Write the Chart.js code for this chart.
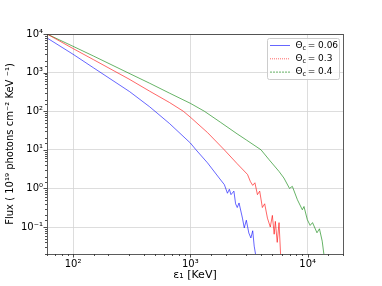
<!DOCTYPE html>
<html>
    <head>
        <title>Flux spectrum</title>
        <meta charset="UTF-8">
        <style>
            body {
                margin: 0;
                background: #fff;
            }
        </style>
    </head>
    <body>
        <canvas id="myChart" width="382" height="286"></canvas>

        <script src="https://cdn.jsdelivr.net/npm/chart.js@4.4.0/dist/chart.umd.min.js"></script>
        <script>
            // values (energy in KeV, flux in 1e19 photons cm^-2 KeV^-1)
            var seriesLabels = ['Θc = 0.06', 'Θc = 0.3', 'Θc = 0.4'];

            var blueEnergy = [60, 100, 150, 303, 450, 664, 1000, 1117, 1400, 1760, 1950, 2070, 2150, 2220, 2350, 2430, 2510, 2600, 2780, 2880, 3000, 3150, 3280, 3400, 3500, 3650];
            var blueFlux = [7900, 2990, 1320, 323, 130, 48, 15, 10, 4.6, 1.86, 1.25, 0.75, 0.95, 0.69, 0.85, 0.4, 0.32, 0.42, 0.17, 0.095, 0.15, 0.07, 0.052, 0.08, 0.032, 0.015];

            var redEnergy = [60, 100, 150, 300, 450, 664, 870, 1000, 1400, 1945, 2500, 3070, 3250, 3400, 3550, 3730, 3900, 4110, 4300, 4540, 4800, 5000, 5180, 5300, 5500, 5700, 5900];
            var redFlux = [10000, 4200, 2150, 680, 330, 168, 100, 70, 28, 10, 4.4, 2.3, 1.5, 1.2, 1.4, 0.69, 0.85, 0.32, 0.4, 0.17, 0.1, 0.2, 0.065, 0.14, 0.04, 0.13, 0.015];

            var greenEnergy = [60, 100, 150, 300, 450, 664, 1000, 1315, 1800, 2500, 3000, 4000, 4700, 5700, 6270, 7000, 7400, 8170, 9000, 9300, 9930, 10500, 11000, 12000, 12600, 13300, 13900];
            var greenFlux = [10000, 4800, 2670, 960, 530, 294, 160, 100, 52, 26, 18, 10, 5.5, 2.75, 1.86, 1.0, 1.13, 0.51, 0.28, 0.34, 0.155, 0.11, 0.13, 0.071, 0.09, 0.043, 0.015];

            var xMin = 60, xMax = 20000;
            var yMin = 0.02, yMax = 10000;

            var sup = {'0': '⁰', '1': '¹', '2': '²', '3': '³', '4': '⁴', '5': '⁵', '-': '⁻'};

            function isDecade(v) {
                var l = Math.log10(v);
                return Math.abs(l - Math.round(l)) < 1e-6;
            }

            function decadeLabel(v) {
                if (!isDecade(v)) {
                    return '';
                }
                var e = String(Math.round(Math.log10(v)));
                var s = '10';
                for (var i = 0; i < e.length; i++) {
                    s += sup[e[i]];
                }
                return s;
            }

            function toPoints(xs, ys) {
                var pts = [];
                for (var i = 0; i < xs.length; i++) {
                    pts.push({x: xs[i], y: ys[i]});
                }
                return pts;
            }

            function gridColor(ctx) {
                if (ctx.tick && isDecade(ctx.tick.value)) {
                    return '#d4d4d4';
                }
                return 'rgba(0,0,0,0)';
            }

            var framePlugin = {
                id: 'frame',
                afterDraw: function (chart) {
                    var ctx = chart.ctx;
                    var a = chart.chartArea;
                    ctx.save();
                    // ticks, long on decades, short otherwise
                    ctx.strokeStyle = '#222';
                    ctx.lineWidth = 0.8;
                    chart.scales.y.ticks.forEach(function (t) {
                        var py = Math.round(chart.scales.y.getPixelForValue(t.value)) + 0.5;
                        var len = isDecade(t.value) ? 3.5 : 2;
                        ctx.beginPath();
                        ctx.moveTo(a.left - len, py);
                        ctx.lineTo(a.left, py);
                        ctx.stroke();
                    });
                    chart.scales.x.ticks.forEach(function (t) {
                        var px = Math.round(chart.scales.x.getPixelForValue(t.value)) + 0.5;
                        var len = isDecade(t.value) ? 3.5 : 2;
                        ctx.beginPath();
                        ctx.moveTo(px, a.bottom);
                        ctx.lineTo(px, a.bottom + len);
                        ctx.stroke();
                    });
                    ctx.strokeStyle = '#333';
                    ctx.strokeRect(Math.round(a.left) + 0.5, Math.round(a.top) + 0.5, Math.round(a.right - a.left), Math.round(a.bottom - a.top));

                    // legend box in the upper right corner
                    var bx = 267.5, by = 38.5, bw = 72, bh = 41;
                    ctx.fillStyle = 'rgba(255,255,255,0.85)';
                    ctx.strokeStyle = '#cccccc';
                    ctx.lineWidth = 1;
                    ctx.beginPath();
                    ctx.roundRect(bx, by, bw, bh, 2);
                    ctx.fill();
                    ctx.stroke();

                    chart.data.datasets.forEach(function (ds, i) {
                        var cy = 45.5 + i * 13.3;
                        ctx.strokeStyle = ds.borderColor;
                        ctx.lineWidth = 1;
                        ctx.setLineDash(ds.legendDash || []);
                        ctx.beginPath();
                        ctx.moveTo(270, cy);
                        ctx.lineTo(290, cy);
                        ctx.stroke();
                        ctx.setLineDash([]);

                        var parts = ds.label.split(' = ');
                        var x = 295.5;
                        ctx.fillStyle = '#000';
                        ctx.textBaseline = 'middle';
                        ctx.font = '9px "DejaVu Sans"';
                        ctx.fillText(parts[0].charAt(0), x, cy);
                        x += ctx.measureText(parts[0].charAt(0)).width;
                        ctx.font = '6.5px "DejaVu Sans"';
                        ctx.fillText(parts[0].slice(1), x, cy + 2.5);
                        x += ctx.measureText(parts[0].slice(1)).width + 1.5;
                        ctx.font = '9px "DejaVu Sans"';
                        ctx.fillText('= ' + parts[1], x, cy);
                    });
                    ctx.restore();
                }
            };

            var ctx = document.getElementById('myChart');
            var myChart = new Chart(ctx, {
                type: 'line',
                data: {
                    datasets: [
                        {
                            label: seriesLabels[0],
                            data: toPoints(blueEnergy, blueFlux),
                            borderColor: 'rgba(0,0,255,0.6)',
                            borderWidth: 1
                        },
                        {
                            label: seriesLabels[1],
                            data: toPoints(redEnergy, redFlux),
                            borderColor: 'rgba(255,0,0,0.6)',
                            borderWidth: 1,
                            legendDash: [1, 1]
                        },
                        {
                            label: seriesLabels[2],
                            data: toPoints(greenEnergy, greenFlux),
                            borderColor: 'rgba(0,128,0,0.6)',
                            borderWidth: 1,
                            legendDash: [2, 1]
                        }
                    ]
                },
                options: {
                    responsive: false,
                    animation: false,
                    layout: {
                        padding: {left: 0, top: 34, right: 39, bottom: 0}
                    },
                    elements: {
                        point: {radius: 0},
                        line: {tension: 0}
                    },
                    plugins: {
                        legend: {display: false},
                        tooltip: {enabled: false}
                    },
                    scales: {
                        x: {
                            type: 'logarithmic',
                            min: xMin,
                            max: xMax,
                            afterFit: function (scale) {
                                scale.height = 32;
                            },
                            grid: {color: gridColor, lineWidth: 0.8, drawTicks: false},
                            border: {display: false},
                            ticks: {
                                autoSkip: false,
                                maxRotation: 0,
                                padding: 4,
                                color: '#000',
                                font: {family: 'DejaVu Sans', size: 10},
                                callback: function (v) {
                                    return decadeLabel(v);
                                }
                            },
                            title: {
                                display: true,
                                text: 'ε₁ [KeV]',
                                color: '#000',
                                font: {family: 'DejaVu Sans', size: 11},
                                padding: {top: 0, bottom: 4}
                            }
                        },
                        y: {
                            type: 'logarithmic',
                            min: yMin,
                            max: yMax,
                            afterFit: function (scale) {
                                scale.width = 47;
                            },
                            grid: {color: gridColor, lineWidth: 0.8, drawTicks: false},
                            border: {display: false},
                            ticks: {
                                autoSkip: false,
                                padding: 4,
                                color: '#000',
                                font: {family: 'DejaVu Sans', size: 10},
                                callback: function (v) {
                                    return decadeLabel(v);
                                }
                            },
                            title: {
                                display: true,
                                text: 'Flux ( 10¹⁹ photons cm⁻² KeV ⁻¹)',
                                color: '#000',
                                font: {family: 'DejaVu Sans', size: 10},
                                padding: {top: 4, bottom: 0}
                            }
                        }
                    }
                },
                plugins: [framePlugin]
            });
        </script>
    </body>
</html>
